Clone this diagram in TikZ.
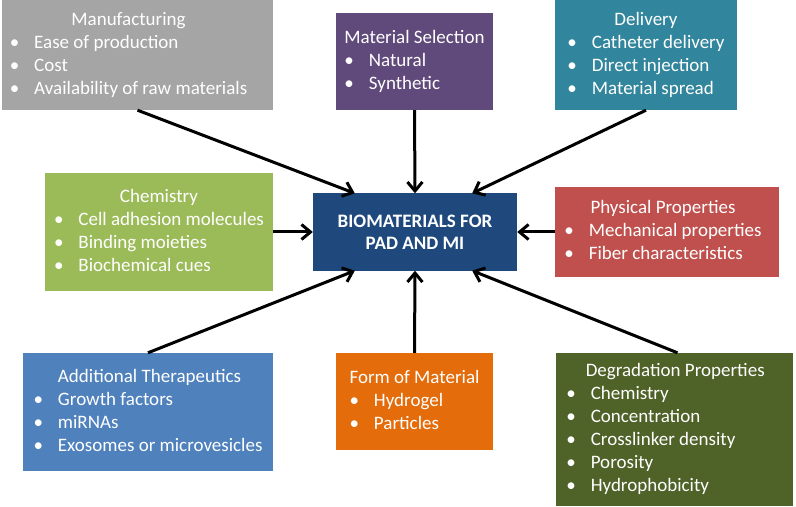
\documentclass[tikz,border=0pt]{standalone}
\usepackage{fontspec}
\setmainfont{Carlito}
\usetikzlibrary{arrows.meta}
\definecolor{manuc}{HTML}{A5A5A5}
\definecolor{selc}{HTML}{604A7B}
\definecolor{delc}{HTML}{31859C}
\definecolor{chemc}{HTML}{9BBB59}
\definecolor{hubc}{HTML}{1F497D}
\definecolor{physc}{HTML}{C0504D}
\definecolor{addc}{HTML}{4F81BD}
\definecolor{formc}{HTML}{E46C0A}
\definecolor{degc}{HTML}{4F6228}
\newcommand{\bl}{\textbullet}
\begin{document}
\begin{tikzpicture}[x=1bp,y=-1bp,
	panel/.style={inner sep=0pt,text=white,font=\fontsize{19bp}{23bp}\selectfont},
	feed/.style={line width=3bp,-{Straight Barb[length=9bp,width=15bp]}}]
	\useasboundingbox (0,0) rectangle (796,507);
	\node[panel,fill=hubc,minimum width=204bp,minimum height=77bp,align=center,font=\fontsize{19bp}{22bp}\selectfont\bfseries] (hub) at (415,232) {BIOMATERIALS FOR\\PAD AND MI};
	\node[panel,fill=manuc,minimum width=271bp,minimum height=110bp] (manu) at (137.5,55) {\begin{tabular}{@{}l@{\hspace{15bp}}l@{}}
		\multicolumn{2}{c}{Manufacturing}\\
		\bl & Ease of production\\
		\bl & Cost\\
		\bl & Availability of raw materials
	\end{tabular}\rule{18bp}{0pt}};
	\node[panel,fill=selc,minimum width=157bp,minimum height=97bp] (sel) at (414.5,61.5) {\begin{tabular}{@{}l@{\hspace{15bp}}l@{}}
		\multicolumn{2}{@{}l@{}}{Material Selection}\\
		\bl & Natural\\
		\bl & Synthetic
	\end{tabular}};
	\node[panel,fill=delc,minimum width=182bp,minimum height=110bp] (deliv) at (646,55) {\begin{tabular}{@{}l@{\hspace{15bp}}l@{}}
		\multicolumn{2}{c}{Delivery}\\
		\bl & Catheter delivery\\
		\bl & Direct injection\\
		\bl & Material spread
	\end{tabular}};
	\node[panel,fill=chemc,minimum width=228bp,minimum height=118bp] (chem) at (159,232) {\begin{tabular}{@{}l@{\hspace{15bp}}l@{}}
		\multicolumn{2}{c}{Chemistry}\\
		\bl & Cell adhesion molecules\\
		\bl & Binding moieties\\
		\bl & Biochemical cues
	\end{tabular}};
	\node[panel,fill=physc,minimum width=224bp,minimum height=90bp] (phys) at (667,232) {\begin{tabular}{@{}l@{\hspace{15bp}}l@{}}
		\multicolumn{2}{c}{Physical Properties}\\
		\bl & Mechanical properties\\
		\bl & Fiber characteristics
	\end{tabular}\rule{8bp}{0pt}};
	\node[panel,fill=addc,minimum width=250bp,minimum height=118bp] (addl) at (148,412) {\begin{tabular}{@{}l@{\hspace{15bp}}l@{}}
		& Additional Therapeutics\\
		\bl & Growth factors\\
		\bl & miRNAs\\
		\bl & Exosomes or microvesicles
	\end{tabular}};
	\node[panel,fill=formc,minimum width=157bp,minimum height=97bp] (form) at (414.5,401.5) {\begin{tabular}{@{}l@{\hspace{15bp}}l@{}}
		\multicolumn{2}{@{}l@{}}{Form of Material}\\
		\bl & Hydrogel\\
		\bl & Particles
	\end{tabular}};
	\node[panel,fill=degc,minimum width=237bp,minimum height=153bp] (degr) at (674.5,429.5) {\begin{tabular}{@{}l@{\hspace{15bp}}l@{}}
		& \hspace{-5bp}Degradation Properties\\
		\bl & Chemistry\\
		\bl & Concentration\\
		\bl & Crosslinker density\\
		\bl & Porosity\\
		\bl & Hydrophobicity
	\end{tabular}\rule{18bp}{0pt}};
	\draw[feed] (manu.south) -- ([xshift=42bp]hub.north west);
	\draw[feed] (sel.south) -- (hub.north);
	\draw[feed] (deliv.south) -- ([xshift=-45bp]hub.north east);
	\draw[feed] (chem.east) -- (hub.west);
	\draw[feed] (phys.west) -- (hub.east);
	\draw[feed] (addl.north) -- ([xshift=42bp]hub.south west);
	\draw[feed] (form.north) -- (hub.south);
	\draw[feed] ([xshift=3bp]degr.north) -- ([xshift=-45bp]hub.south east);
\end{tikzpicture}
\end{document}
